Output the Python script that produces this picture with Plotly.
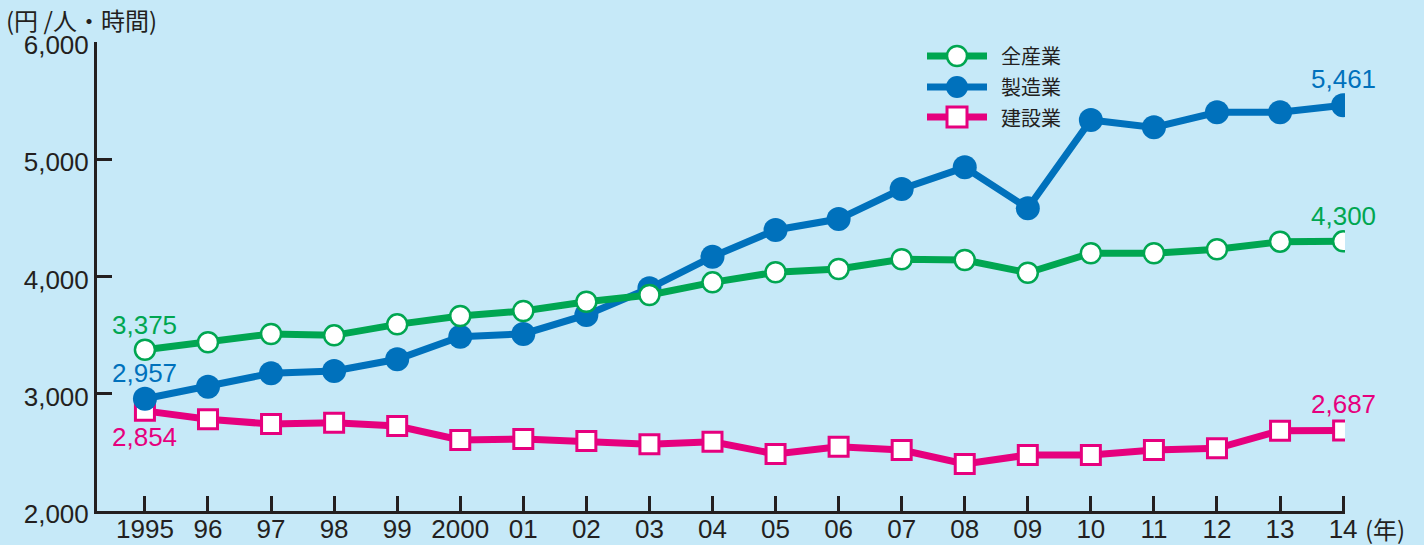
import plotly.graph_objects as go

# Labour productivity (yen per person-hour) by industry, 1995-2014
years = list(range(1995, 2015))
tick_labels = ["1995", "96", "97", "98", "99", "2000", "01", "02", "03", "04",
               "05", "06", "07", "08", "09", "10", "11", "12", "13", "14"]

all_industries = [3375, 3439, 3510, 3498, 3592, 3663, 3706, 3785, 3842, 3950,
                  4036, 4064, 4147, 4141, 4032, 4198, 4198, 4232, 4297, 4300]
manufacturing = [2957, 3060, 3174, 3194, 3294, 3487, 3510, 3672, 3899, 4169,
                 4397, 4490, 4746, 4931, 4582, 5335, 5272, 5400, 5400, 5461]
construction = [2854, 2782, 2742, 2753, 2725, 2606, 2614, 2597, 2569, 2591,
                2486, 2548, 2520, 2401, 2478, 2478, 2520, 2535, 2685, 2687]

series_names = ["全産業", "製造業", "建設業"]

GREEN = "#00A651"
BLUE = "#0071BC"
PINK = "#E6007E"
INK = "#231F20"
BG = "#C6E9F8"

W, H = 1424, 545
L, R, T, B = 97, 79, 42, 34

FONT = "Liberation Sans, Arial, Noto Sans CJK JP, sans-serif"
CJK = "Noto Sans CJK JP, sans-serif"

fig = go.Figure()

fig.add_trace(go.Scatter(
    x=years, y=construction, mode="lines+markers", name=series_names[2],
    line=dict(color=PINK, width=7),
    marker=dict(symbol="square", size=19, color="white",
                line=dict(color=PINK, width=3)),
))
fig.add_trace(go.Scatter(
    x=years, y=manufacturing, mode="lines+markers", name=series_names[1],
    line=dict(color=BLUE, width=7),
    marker=dict(symbol="circle", size=24, color=BLUE, line=dict(width=0)),
))
fig.add_trace(go.Scatter(
    x=years, y=all_industries, mode="lines+markers", name=series_names[0],
    line=dict(color=GREEN, width=7),
    marker=dict(symbol="circle", size=20, color="white",
                line=dict(color=GREEN, width=2.5)),
))

# Value labels at the first and last year
annotations = []
for vals, color, first_shift, last_shift in [
    (all_industries, GREEN, 25, 25),
    (manufacturing, BLUE, 26, 26),
    (construction, PINK, -26, 26),
]:
    for x, v, sh in [(years[0], vals[0], first_shift), (years[-1], vals[-1], last_shift)]:
        annotations.append(dict(
            x=x, y=v, xref="x", yref="y", text=f"{v:,}", showarrow=False,
            yshift=sh, font=dict(family=FONT, size=26, color=color),
        ))

# Axis unit captions
annotations.append(dict(
    x=0, y=1, xref="paper", yref="paper", xshift=-L + 4, yshift=T - 19,
    text="(円 /人・時間)", showarrow=False, xanchor="left", yanchor="middle",
    font=dict(family=CJK, size=24, color=INK),
))
annotations.append(dict(
    x=1, y=0, xref="paper", yref="paper", xshift=18, yshift=-17,
    text="(年)", showarrow=False, xanchor="left", yanchor="middle",
    font=dict(family=CJK, size=24, color=INK),
))

# Custom legend: long line segment with the marker in the middle
pw, ph = W - L - R, H - T - B


def px_x(px):
    return (px - L) / pw


def px_y(py):
    return (H - B - py) / ph


shapes = []
legend_rows = [(56, GREEN, "circle_open"), (87, BLUE, "circle"), (117, PINK, "square")]
for (py, color, kind), name in zip(legend_rows, series_names):
    shapes.append(dict(type="line", xref="paper", yref="paper",
                       x0=px_x(927), x1=px_x(987), y0=px_y(py), y1=px_y(py),
                       line=dict(color=color, width=7)))
    common = dict(xref="paper", yref="paper", xsizemode="pixel", ysizemode="pixel",
                  xanchor=px_x(957), yanchor=px_y(py))
    if kind == "circle_open":
        shapes.append(dict(type="circle", x0=-10, x1=10, y0=-10, y1=10,
                           fillcolor="white", line=dict(color=color, width=2.5), **common))
    elif kind == "circle":
        shapes.append(dict(type="circle", x0=-11, x1=11, y0=-11, y1=11,
                           fillcolor=color, line=dict(width=0), **common))
    else:
        shapes.append(dict(type="rect", x0=-10, x1=10, y0=-10, y1=10,
                           fillcolor="white", line=dict(color=color, width=3), **common))
    annotations.append(dict(
        x=px_x(999), y=px_y(py), xref="paper", yref="paper", text=name,
        showarrow=False, xanchor="left", yanchor="middle",
        font=dict(family=CJK, size=20, color=INK),
    ))

fig.update_layout(
    width=W, height=H,
    margin=dict(l=L, r=R, t=T, b=B, pad=0, autoexpand=False),
    paper_bgcolor=BG, plot_bgcolor=BG,
    showlegend=False,
    annotations=annotations,
    shapes=shapes,
    xaxis=dict(
        range=[1994.24, 2014.03], tickmode="array", tickvals=years, ticktext=tick_labels,
        showgrid=False, zeroline=False, showline=True, linecolor=INK, linewidth=3,
        ticks="inside", ticklen=15, tickwidth=3, tickcolor=INK, automargin=False,
        ticklabelstandoff=-7,
        tickfont=dict(family=FONT, size=26, color=INK),
    ),
    yaxis=dict(
        range=[2000, 6000], tickmode="array", tickvals=[2000, 3000, 4000, 5000, 6000],
        ticktext=["2,000", "3,000", "4,000", "5,000", "6,000"],
        showgrid=False, zeroline=False, showline=True, linecolor=INK, linewidth=3,
        ticks="inside", ticklen=15, tickwidth=3, tickcolor=INK, automargin=False,
        ticklabelshift=3,
        tickfont=dict(family=FONT, size=26, color=INK),
    ),
)

fig.write_html("out.html")
